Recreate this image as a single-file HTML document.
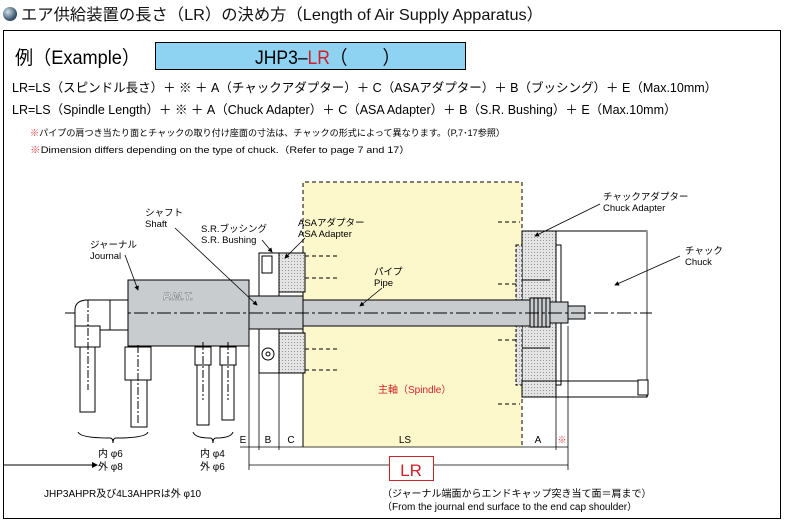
<!DOCTYPE html>
<html><head><meta charset="utf-8"><style>
html,body{margin:0;padding:0;background:#fff;}
svg{display:block;font-family:"Liberation Sans","Noto Sans CJK JP",sans-serif;}
</style></head><body>
<svg width="785" height="523" viewBox="0 0 785 523" xmlns="http://www.w3.org/2000/svg">
<defs>
<pattern id="dot" width="3" height="3" patternUnits="userSpaceOnUse"><rect width="3" height="3" fill="#e4e4e4"/><rect width="1" height="1" fill="#999"/></pattern>
<radialGradient id="ball" cx="0.35" cy="0.35" r="0.7"><stop offset="0" stop-color="#cfe0ea"/><stop offset="1" stop-color="#1d3c55"/></radialGradient>
<marker id="ar" markerWidth="6" markerHeight="6" refX="5" refY="3" orient="auto"><path d="M0,0 L6,3 L0,6 z" fill="#000"/></marker>
</defs>
<circle cx="10" cy="14" r="7" fill="url(#ball)"/>
<text x="21" y="20" font-size="16" fill="#111" textLength="522" lengthAdjust="spacingAndGlyphs">エア供給装置の長さ（LR）の決め方（Length of Air Supply Apparatus）</text>
<rect x="3.5" y="30.5" width="777" height="488" fill="none" stroke="#000" stroke-width="1"/>
<text x="15" y="64" font-size="19" textLength="125" lengthAdjust="spacingAndGlyphs">例（Example）</text>
<rect x="155.5" y="42.5" width="310" height="27" fill="#8fd3f2" stroke="#000"/>
<text x="255" y="64" font-size="19" textLength="145" lengthAdjust="spacingAndGlyphs">JHP3–<tspan fill="#d0202a">LR</tspan>（　　）</text>
<text x="12" y="92" font-size="12.5">LR=LS（スピンドル長さ）＋ ※ ＋ A（チャックアダプター）＋ C（ASAアダプター）＋ B（ブッシング）＋ E（Max.10mm）</text>
<text x="12" y="114" font-size="12.5">LR=LS（Spindle Length）＋ ※ ＋ A（Chuck Adapter）＋ C（ASA Adapter）＋ B（S.R. Bushing）＋ E（Max.10mm）</text>
<text x="30" y="136" font-size="9" textLength="475" lengthAdjust="spacingAndGlyphs"><tspan fill="#e04040">※</tspan>パイプの肩つき当たり面とチャックの取り付け座面の寸法は、チャックの形式によって異なります。（P,7･17参照）</text>
<text x="30" y="153" font-size="9" textLength="380" lengthAdjust="spacingAndGlyphs"><tspan fill="#e04040">※</tspan>Dimension differs depending on the type of chuck.（Refer to page 7 and 17）</text>

<!-- spindle -->
<rect x="303" y="182" width="219" height="265" fill="#fdf8cc"/>
<path d="M303,250 V182 H522 V447" fill="none" stroke="#000" stroke-dasharray="4,3"/>
<line x1="303" y1="250" x2="303" y2="447" stroke="#000"/>
<g stroke="#000" stroke-dasharray="4,3">
<line x1="305" y1="256" x2="338" y2="256"/><line x1="305" y1="278" x2="338" y2="278"/>
<line x1="305" y1="349" x2="338" y2="349"/><line x1="305" y1="370" x2="338" y2="370"/>
<line x1="498" y1="222" x2="520" y2="222"/><line x1="498" y1="284" x2="520" y2="284"/>
<line x1="498" y1="340" x2="520" y2="340"/><line x1="498" y1="404" x2="520" y2="404"/>
</g>
<text x="378" y="393" font-size="10" fill="#d0202a">主軸（Spindle）</text>

<!-- bushing and ASA -->
<rect x="259" y="253" width="20" height="120" fill="#fff" stroke="#000"/>
<rect x="279" y="253" width="26" height="39" fill="url(#dot)" stroke="#000"/>
<rect x="279" y="333" width="26" height="40" fill="url(#dot)" stroke="#000"/>
<rect x="262" y="256" width="10" height="17" fill="none" stroke="#000"/>
<circle cx="268" cy="354" r="6" fill="none" stroke="#000"/><circle cx="268" cy="354" r="2" fill="none" stroke="#000"/>

<!-- chuck adapter and chuck -->
<rect x="556" y="231" width="91" height="166" fill="#fff" stroke="#000"/>
<line x1="647" y1="231" x2="647" y2="397" stroke="#999" stroke-width="2"/>
<rect x="522" y="231" width="34" height="166" fill="url(#dot)" stroke="#000"/>
<rect x="516" y="245" width="6" height="140" fill="url(#dot)" stroke="#000" stroke-dasharray="3,2"/>
<rect x="556" y="245" width="5" height="140" fill="#fff" stroke="#000"/>
<line x1="522" y1="280" x2="550" y2="280" stroke="#000"/><line x1="522" y1="348" x2="550" y2="348" stroke="#000"/>
<rect x="522" y="381" width="125" height="16" fill="none" stroke="#000"/>
<rect x="638" y="380" width="10" height="15" fill="#fff" stroke="#000"/>

<!-- journal, shaft, pipe -->
<rect x="128" y="280" width="121" height="66" fill="#c8ccce" stroke="#000"/>
<text x="163" y="300" font-size="11" font-style="italic" font-weight="bold" fill="#eee" stroke="#777" stroke-width="0.5">P.M.T.</text>
<rect x="249" y="296" width="54" height="33" fill="#c8ccce" stroke="#000"/>
<rect x="303" y="300" width="229" height="26" fill="#c8ccce" stroke="#000"/>
<rect x="530" y="298" width="20" height="29" fill="#c8ccce" stroke="#000"/>
<g stroke="#000"><line x1="534" y1="298" x2="534" y2="327"/><line x1="538" y1="298" x2="538" y2="327"/><line x1="542" y1="298" x2="542" y2="327"/><line x1="546" y1="298" x2="546" y2="327"/></g>
<rect x="550" y="302" width="18" height="21" fill="#c8ccce" stroke="#000"/>
<rect x="568" y="306" width="17" height="13" fill="#c8ccce" stroke="#000"/>
<line x1="65" y1="313" x2="652" y2="313" stroke="#000" stroke-dasharray="14,3,3,3"/>

<!-- fittings -->
<g fill="#fff" stroke="#000">
<rect x="110" y="300" width="18" height="30"/>
<path d="M75,345 V310 Q75,300 88,300 H110 V330 H100 V345 z"/>
<rect x="75" y="326" width="25" height="21"/>
<rect x="80" y="347" width="15" height="65" fill="#fff"/>
<rect x="125" y="347" width="26" height="33"/>
<rect x="131" y="380" width="16" height="47"/>
<rect x="195" y="347" width="16" height="18"/><rect x="197" y="365" width="12" height="60"/>
<rect x="220" y="347" width="16" height="18"/><rect x="222" y="365" width="12" height="55"/>
</g>
<g stroke="#000" stroke-dasharray="8,2,2,2"><line x1="88" y1="300" x2="88" y2="390"/><line x1="138" y1="345" x2="138" y2="425"/><line x1="203" y1="342" x2="203" y2="400"/><line x1="228" y1="342" x2="228" y2="400"/></g>

<!-- braces -->
<path d="M78,432 Q80,438 110,438 Q113,438 113,443 Q113,438 116,438 Q146,438 148,432" fill="none" stroke="#000"/>
<path d="M193,432 Q195,438 210,438 Q213,438 213,443 Q213,438 216,438 Q231,438 233,432" fill="none" stroke="#000"/>
<text x="98" y="457" font-size="10">内 φ6</text><text x="98" y="470" font-size="10">外 φ8</text>
<text x="200" y="457" font-size="10">内 φ4</text><text x="200" y="470" font-size="10">外 φ6</text>
<line x1="4" y1="465" x2="97" y2="465" stroke="#000" marker-end="url(#ar)"/>
<text x="44" y="497" font-size="10">JHP3AHPR及び4L3AHPRは外 φ10</text>

<!-- dimensions -->
<g stroke="#000" stroke-width="0.8">
<line x1="249" y1="346" x2="249" y2="470"/><line x1="259" y1="373" x2="259" y2="450"/>
<line x1="279" y1="373" x2="279" y2="450"/><line x1="556" y1="397" x2="556" y2="450"/>
<line x1="568" y1="326" x2="568" y2="470"/>
<line x1="240" y1="447" x2="568" y2="447"/>
<line x1="249" y1="465" x2="389" y2="465"/><line x1="434" y1="465" x2="568" y2="465"/>
</g>
<g font-size="10" text-anchor="middle"><text x="243" y="443">E</text><text x="268" y="443">B</text><text x="291" y="443">C</text><text x="405" y="443">LS</text><text x="538" y="443">A</text><text x="562" y="443" fill="#e04040" font-size="9">※</text></g>
<rect x="389.5" y="456.5" width="44" height="24" fill="#fff" stroke="#d0202a"/>
<text x="411" y="476" font-size="17" text-anchor="middle" fill="#d0202a">LR</text>
<text x="382" y="497" font-size="10">（ジャーナル端面からエンドキャップ突き当て面＝肩まで）</text>
<text x="382" y="510" font-size="10">（From the journal end surface to the end cap shoulder）</text>

<!-- labels -->
<g font-size="9.5">
<text x="90" y="248">ジャーナル</text><text x="90" y="259">Journal</text>
<text x="145" y="216">シャフト</text><text x="145" y="227">Shaft</text>
<text x="201" y="232">S.R.ブッシング</text><text x="201" y="243">S.R. Bushing</text>
<text x="298" y="226">ASAアダプター</text><text x="298" y="237">ASA Adapter</text>
<text x="374" y="275">パイプ</text><text x="374" y="286">Pipe</text>
<text x="603" y="200">チャックアダプター</text><text x="603" y="211">Chuck Adapter</text>
<text x="685" y="254">チャック</text><text x="685" y="265">Chuck</text>
</g>
<g stroke="#000" stroke-width="0.8" fill="none">
<line x1="125" y1="255" x2="138" y2="290" marker-end="url(#ar)"/>
<line x1="175" y1="228" x2="257" y2="305" marker-end="url(#ar)"/>
<path d="M262,240 L272,252" marker-end="url(#ar)"/>
<line x1="305" y1="238" x2="285" y2="258" marker-end="url(#ar)"/>
<line x1="382" y1="288" x2="360" y2="306" marker-end="url(#ar)"/>
<line x1="600" y1="204" x2="535" y2="236" marker-end="url(#ar)"/>
<line x1="680" y1="256" x2="615" y2="285" marker-end="url(#ar)"/>
</g>
</svg>
</body></html>
